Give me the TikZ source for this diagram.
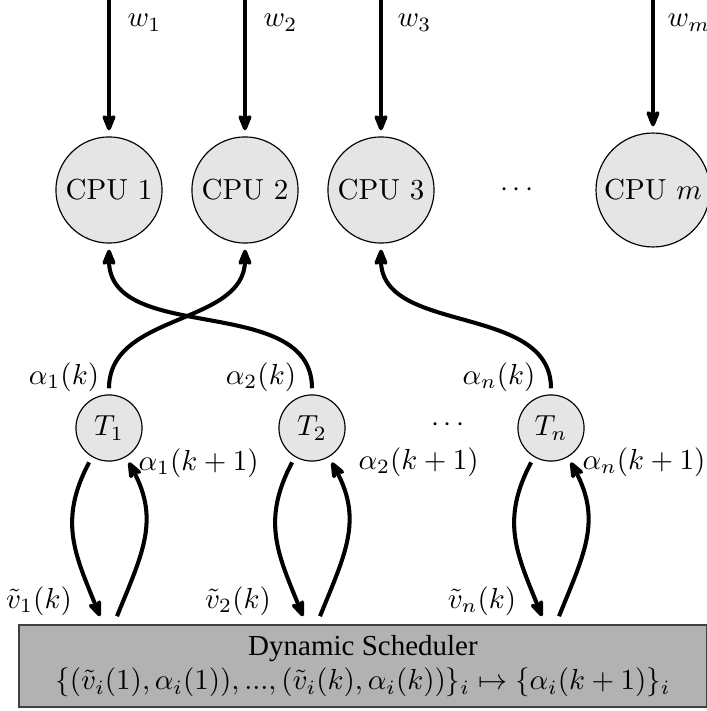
\documentclass[tikz,border=0pt]{standalone}
\usepackage{fontspec}
\newfontfamily\timesfont{Liberation Serif}
\usetikzlibrary{arrows.meta,calc}
\begin{document}
\begin{tikzpicture}[x=0.3448pt,y=0.3448pt,
  cpu/.style={circle,draw,line width=0.4pt,fill=black!10,minimum size=36.6pt,inner sep=0pt,outer sep=2.3pt},
  task/.style={circle,draw,line width=0.4pt,fill=black!10,minimum size=22.8pt,inner sep=0pt,outer sep=2.3pt},
  flow/.style={line width=1.4pt,-{Stealth[length=7.5pt,width=6pt,inset=2.2pt,round]}},
  sched/.style={draw=black!75,line width=0.5pt,fill=black!30,minimum width=237.2pt,minimum height=28.3pt,inner sep=0pt,align=center},
  lab/.style={inner sep=0pt}
]
\useasboundingbox (0,0) rectangle (707,711);
\coordinate (top) at (0,711);
% CPUs
\node[cpu] (C1) at (109,521) {CPU 1};
\node[cpu] (C2) at (245,521) {CPU 2};
\node[cpu] (C3) at (381,521) {CPU 3};
\node[cpu,minimum size=39.3pt] (Cm) at (653,521) {CPU $m$};
\node[lab] (cdots) at (517,521) {$\cdots$};
% tasks
\node[task] (T1) at (109,283) {$T_1$};
\node[task] (T2) at (312,283) {$T_2$};
\node[task] (Tn) at (551,283) {$T_n$};
\node[lab] (tdots) at (448,286) {$\cdots$};
% scheduler
\node[sched] (S) at (363,45) {{\timesfont Dynamic Scheduler}\\ $\{(\tilde v_i(1),\alpha_i(1)),...,(\tilde v_i(k),\alpha_i(k))\}_i\mapsto\{\alpha_i(k+1)\}_i$};
% workload arrows
\draw[flow] (C1 |- top) -- (C1);
\draw[flow] (C2 |- top) -- (C2);
\draw[flow] (C3 |- top) -- (C3);
\draw[flow] (Cm |- top) -- (Cm);
\node[lab,anchor=base west] (w1) at (127,684) {$w_1$};
\node[lab,anchor=base west] (w2) at (263,684) {$w_2$};
\node[lab,anchor=base west] (w3) at (397,684) {$w_3$};
\node[lab,anchor=base west] (wm) at (667,684) {$w_m$};
% task to cpu
\draw[flow] (T1) to[out=90,in=-90] (C2);
\draw[flow] (T2) to[out=90,in=-90] (C1);
\draw[flow] (Tn) to[out=90,in=-90] (C3);
\node[lab] (a1) at (64,334) {$\alpha_1(k)$};
\node[lab] (a2) at (261,334) {$\alpha_2(k)$};
\node[lab] (an) at (499,334) {$\alpha_n(k)$};
% task <-> scheduler
\foreach \t in {T1,T2,Tn}{
  \draw[flow] (\t.-120) to[out=-118,in=112,looseness=1.1] ($(\t |- S.north)+(-9,8)$);
  \draw[flow] ($(\t |- S.north)+(8,8)$) to[out=68,in=-62,looseness=1.1] (\t.-60);
}
\node[lab,anchor=west] (b1) at (138,248) {$\alpha_1(k+1)$};
\node[lab,anchor=west] (b2) at (358,249) {$\alpha_2(k+1)$};
\node[lab,anchor=east] (bn) at (706,249) {$\alpha_n(k+1)$};
\node[lab] (v1) at (39,110) {$\tilde v_1(k)$};
\node[lab] (v2) at (238,110) {$\tilde v_2(k)$};
\node[lab] (vn) at (482,110) {$\tilde v_n(k)$};
\end{tikzpicture}
\end{document}
